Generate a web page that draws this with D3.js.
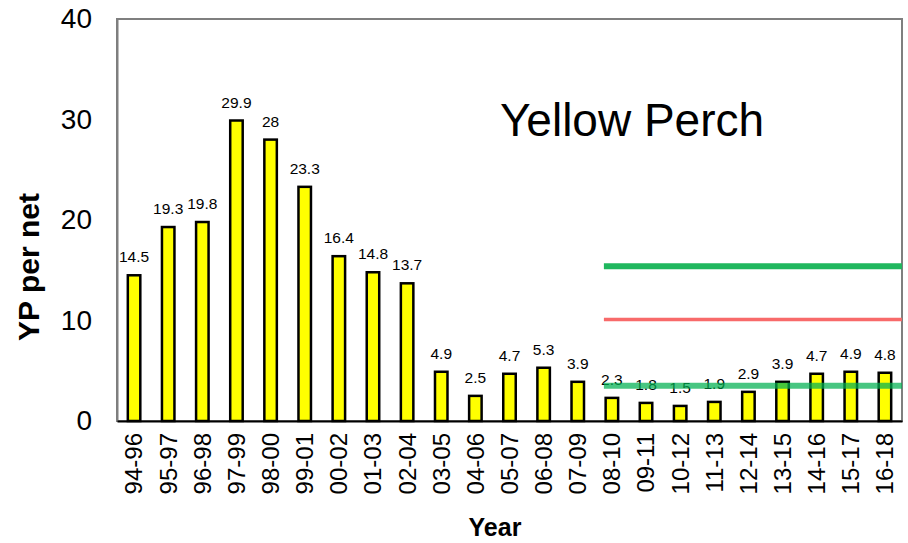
<!DOCTYPE html>
<html><head><meta charset="utf-8">
<script src="https://cdn.jsdelivr.net/npm/d3@7"></script>
<style>body{margin:0;background:#fff}svg{display:block;font-family:"Liberation Sans",Arial,sans-serif}</style>
</head><body><svg id="c" width="908" height="543"></svg>
<script>
const categories = ["94-96","95-97","96-98","97-99","98-00","99-01","00-02","01-03","02-04","03-05","04-06","05-07","06-08","07-09","08-10","09-11","10-12","11-13","12-14","13-15","14-16","15-17","16-18"];
const values = [14.5,19.3,19.8,29.9,28,23.3,16.4,14.8,13.7,4.9,2.5,4.7,5.3,3.9,2.3,1.8,1.5,1.9,2.9,3.9,4.7,4.9,4.8];
const yTicks = [0,10,20,30,40];
const refLines = [
  {name:"upper", value:15.4, from:"08-10", to:"16-18", color:"#20b75e", width:6, opacity:1},
  {name:"middle", value:10.1, from:"08-10", to:"16-18", color:"#f86a6a", width:3.5, opacity:1},
  {name:"lower", value:3.5, from:"08-10", to:"16-18", color:"#00b050", width:6, opacity:0.72}
];

const svg = d3.select("#c");
const L=117, R=902, T=19, B=421;
const x = d3.scaleBand().domain(categories).range([L,R]).paddingInner(0.634).paddingOuter(0.317);
const y = d3.scaleLinear().domain([0,40]).range([B,T]);
const FONT = "Liberation Sans, Arial, sans-serif";

// plot border
svg.append("rect").attr("x",L).attr("y",T).attr("width",R-L).attr("height",B-T)
  .attr("fill","none").attr("stroke","#7f7f7f").attr("stroke-width",2);

// y axis
const ya = svg.append("g").attr("transform",`translate(${L},0)`)
  .call(d3.axisLeft(y).tickValues(yTicks).tickSize(0).tickPadding(25));
ya.select(".domain").attr("stroke","#7f7f7f").attr("stroke-width",2);
ya.selectAll("text").attr("font-size",28).attr("fill","#000").attr("font-family",FONT);

// bars
svg.append("g").selectAll("rect").data(values).join("rect")
  .attr("x",(d,i)=>x(categories[i])).attr("y",d=>y(d))
  .attr("width",x.bandwidth()).attr("height",d=>B-y(d))
  .attr("fill","#ffff00").attr("stroke","#000").attr("stroke-width",2.5);

// bottom axis
const xa = svg.append("g").attr("transform",`translate(0,${B})`)
  .call(d3.axisBottom(x).tickSize(0).tickPadding(0));
xa.select(".domain").attr("stroke","#000").attr("stroke-width",2);
xa.selectAll("text").attr("font-size",24).attr("fill","#000").attr("font-family",FONT)
  .attr("transform","rotate(-90)").attr("text-anchor","end")
  .attr("x",-12).attr("y",0).attr("dy","0.35em");

// value labels
svg.append("g").selectAll("text").data(values).join("text")
  .attr("x",(d,i)=>x(categories[i])+x.bandwidth()/2).attr("y",d=>y(d)-13)
  .attr("text-anchor","middle").attr("font-size",15.5).attr("fill","#000").attr("font-family",FONT)
  .text(d=>d);

// reference lines
svg.append("g").selectAll("line").data(refLines).join("line")
  .attr("x1",d=>x(d.from)+x.bandwidth()/2-8).attr("x2",d=>x(d.to)+x.bandwidth()/2+17)
  .attr("y1",d=>y(d.value)).attr("y2",d=>y(d.value))
  .attr("stroke",d=>d.color).attr("stroke-width",d=>d.width).attr("stroke-opacity",d=>d.opacity);

// title
svg.append("text").attr("x",632).attr("y",136).attr("text-anchor","middle")
  .attr("font-size",46).attr("fill","#000").attr("font-family",FONT).text("Yellow Perch");
// axis titles
svg.append("text").attr("transform",`translate(39,267) rotate(-90)`).attr("text-anchor","middle")
  .attr("font-size",30).attr("font-weight","bold").attr("font-family",FONT).text("YP per net");
svg.append("text").attr("x",495).attr("y",536).attr("text-anchor","middle")
  .attr("font-size",25).attr("font-weight","bold").attr("font-family",FONT).text("Year");
</script></body></html>
